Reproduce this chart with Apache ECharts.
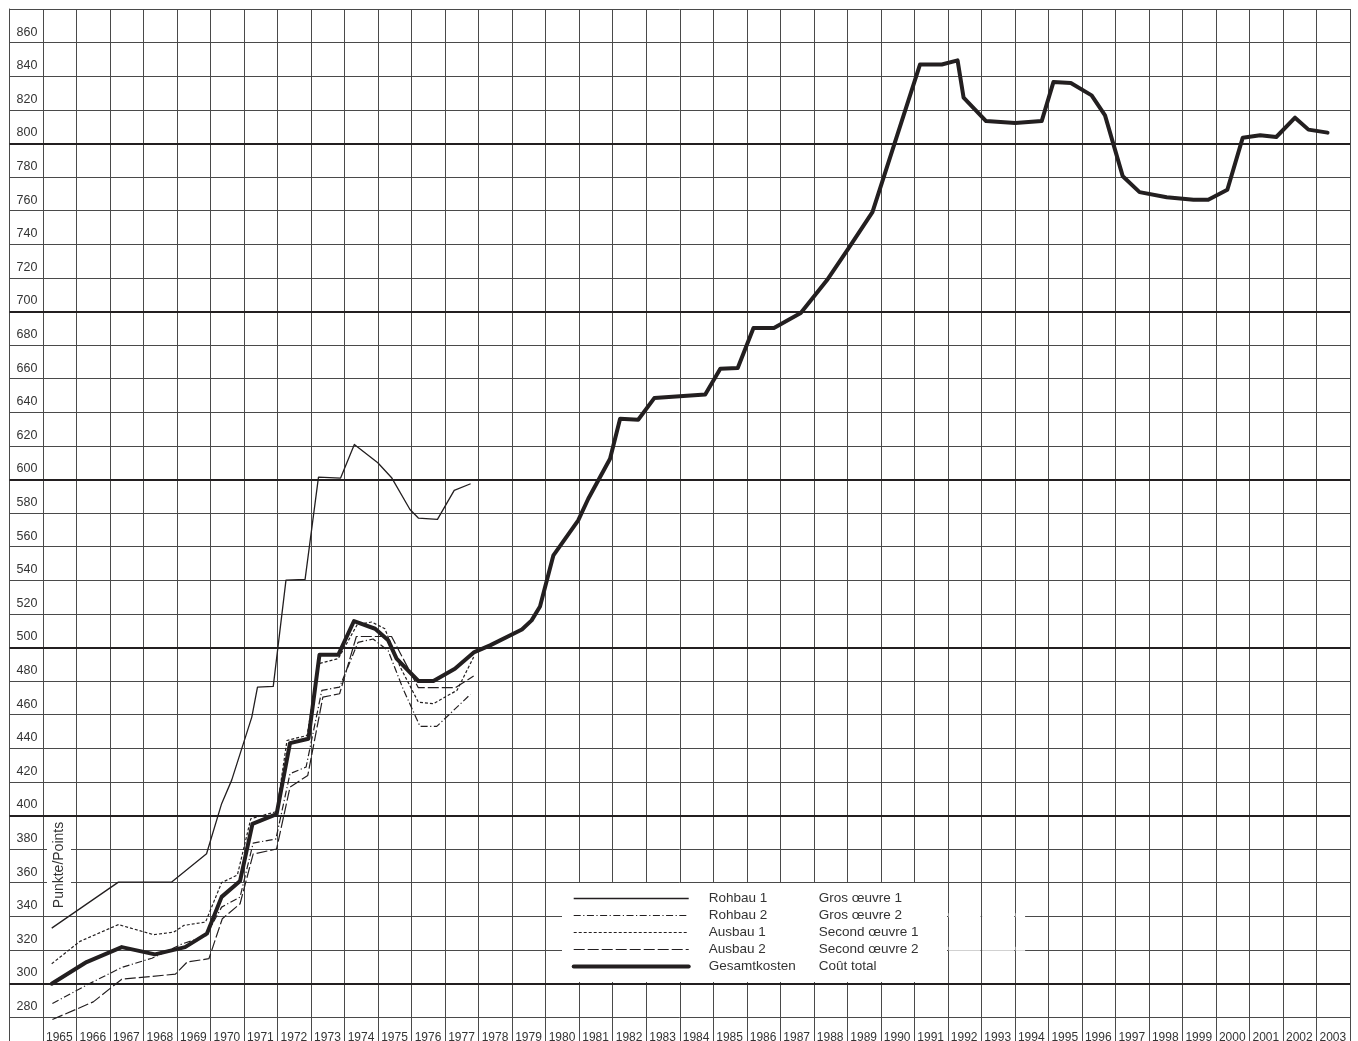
<!DOCTYPE html>
<html>
<head>
<meta charset="utf-8">
<script src="https://cdn.jsdelivr.net/npm/echarts@6/dist/echarts.min.js"></script>
<style>
html,body{margin:0;padding:0;background:#fff;}
#chart{width:1358px;height:1041px;}
</style>
</head>
<body>
<div id="chart"></div>
<script>
// ---- tick labels ----
const yearLabels = [1965,1966,1967,1968,1969,1970,1971,1972,1973,1974,1975,1976,1977,1978,1979,1980,1981,1982,1983,1984,1985,1986,1987,1988,1989,1990,1991,1992,1993,1994,1995,1996,1997,1998,1999,2000,2001,2002,2003];
const valueLabels = [280,300,320,340,360,380,400,420,440,460,480,500,520,540,560,580,600,620,640,660,680,700,720,740,760,780,800,820,840,860];
const heavyLines = [300,400,500,600,700,800];

// ---- series (German name, French name) ----
const seriesNames = ['Rohbau 1','Rohbau 2','Ausbau 1','Ausbau 2','Gesamtkosten'];
const frenchNames = ['Gros œuvre 1','Gros œuvre 2','Second œuvre 1','Second œuvre 2','Coût total'];

// ---- data: [year, index points] ----
const rohbau1 = [[1965.26,332.9],[1967.25,360.3],[1968.84,360.3],[1969.88,377.2],[1970.33,407],[1970.63,421],[1971.23,458.5],[1971.4,476.4],[1971.87,476.8],[1972.25,540],[1972.82,540.5],[1973.22,601.4],[1973.88,600.8],[1974.29,620.8],[1974.99,609.9],[1975.41,600.8],[1975.95,582.1],[1976.2,577],[1976.77,576.2],[1977.27,593.5],[1977.76,597.4]];
const rohbau2 = [[1965.28,288],[1966.3,299],[1967.35,309.5],[1968.25,315],[1969.15,323.5],[1969.85,328],[1970.33,345.4],[1970.88,351.4],[1971.27,383.5],[1971.95,386],[1972.37,424.8],[1972.85,428.8],[1973.32,474.4],[1973.85,476.4],[1974.4,503],[1974.85,505],[1975.3,498],[1975.75,475],[1976.25,453],[1976.75,453],[1977.75,472]];
const ausbau1 = [[1965.26,311.7],[1966.1,325],[1967.25,335],[1968.3,329],[1968.9,330.5],[1969.2,334.5],[1969.85,336.5],[1970.33,360],[1970.8,364.5],[1971.2,398],[1971.97,402.3],[1972.28,444.6],[1972.88,447.6],[1973.23,490.3],[1973.81,493.3],[1974.38,513.7],[1974.81,515.1],[1975.2,511.1],[1975.66,488.3],[1976.2,467.4],[1976.65,466.5],[1977.35,474.4],[1977.85,494.2]];
const ausbau2 = [[1965.28,278.5],[1966.5,289],[1967.35,302.5],[1968.95,305.5],[1969.3,312.7],[1969.95,314.7],[1970.35,338.5],[1970.88,347.4],[1971.27,377],[1971.97,380],[1972.37,416.8],[1972.9,423.8],[1973.35,470.4],[1973.85,472.4],[1974.35,506.5],[1975.4,506.5],[1976.2,476],[1977.3,476],[1977.85,483]];
const gesamtkosten = [[1965.26,299.8],[1966.3,312.7],[1967.35,321.6],[1968.34,317.3],[1969.24,321.6],[1969.89,329.6],[1970.33,351.5],[1970.88,361],[1971.25,395],[1971.97,400.8],[1972.37,443],[1972.92,445.6],[1973.25,495.6],[1973.81,495.6],[1974.28,515.7],[1974.91,511.1],[1975.3,504.2],[1975.55,493.3],[1976.2,480],[1976.65,480],[1977.29,487.3],[1977.87,497.2],[1978.34,501.2],[1979.29,510.7],[1979.58,516.1],[1979.83,524.4],[1980.23,554.8],[1980.97,575.6],[1981.27,588.5],[1981.92,612.3],[1982.22,636.1],[1982.76,635.5],[1983.24,648.4],[1984.76,650.6],[1985.21,665.9],[1985.73,666.3],[1986.2,690.1],[1986.81,690.1],[1987.61,699],[1988.39,718.5],[1989.03,737.3],[1989.75,759.1],[1991.17,847],[1991.82,847],[1992.29,849.4],[1992.47,827.2],[1993.14,813.3],[1994.01,812.1],[1994.8,813.3],[1995.15,836.5],[1995.67,835.9],[1996.29,828.6],[1996.69,816.7],[1997.22,780.4],[1997.72,771],[1998.53,768],[1999.33,766.5],[1999.77,766.5],[2000.34,772.4],[2000.8,803.4],[2001.32,804.8],[2001.8,803.8],[2002.36,815.3],[2002.76,808.2],[2003.33,806.4]];

const INK = '#231f20';
const GRID = '#4a4a4a';
const FONT = '"Liberation Sans", Arial, sans-serif';

// line looks per series (style only)
const looks = {
  'Rohbau 1': {type: 'solid', width: 1.3},
  'Rohbau 2': {type: [7, 2.5, 1.2, 2.5], width: 1.2},
  'Ausbau 1': {type: [3, 2], width: 1.2},
  'Ausbau 2': {type: [11, 3], width: 1.2},
  'Gesamtkosten': {type: 'solid', width: 4}
};
const seriesData = {'Rohbau 1': rohbau1, 'Rohbau 2': rohbau2, 'Ausbau 1': ausbau1, 'Ausbau 2': ausbau2, 'Gesamtkosten': gesamtkosten};

// plot geometry: 20 points per 33.6 px, top edge = 880, runs to the bottom of the page
const TOP = 9, PLOT_H = 1041 - TOP;
const Y_MAX = 880, Y_MIN = Y_MAX - PLOT_H / 1.68;

const chart = echarts.init(document.getElementById('chart'), null, {renderer: 'canvas'});

const frMap = {};
seriesNames.forEach((n, i) => frMap[n] = frenchNames[i]);

const series = seriesNames.map((name, i) => {
  const s = {
    name: name, type: 'line', data: seriesData[name], symbol: 'none', silent: true,
    animation: false, z: name === 'Gesamtkosten' ? 6 : 5, color: INK,
    itemStyle: {color: INK},
    lineStyle: {color: INK, width: looks[name].width, type: looks[name].type, join: 'round', cap: name === 'Gesamtkosten' ? 'round' : 'butt'}
  };
  if (i === 0) {
    s.markLine = {
      silent: true, symbol: 'none', label: {show: false}, animation: false,
      lineStyle: {color: INK, width: 2.2, type: 'solid'},
      emphasis: {disabled: true},
      data: heavyLines.map(v => ({yAxis: v}))
    };
  }
  return s;
});

const option = {
  backgroundColor: '#fff',
  animation: false,
  grid: {left: 9.5, right: 8, top: TOP, bottom: 0, containLabel: false, outerBoundsMode: 'none'},
  xAxis: {
    type: 'value', min: 1964, max: 2004, interval: 1,
    axisLine: {show: false}, axisTick: {show: false},
    splitLine: {show: true, lineStyle: {color: GRID, width: 1}},
    axisLabel: {
      show: true, inside: true, margin: -3, align: 'left', verticalAlign: 'bottom',
      padding: [0, 0, 0, 3], color: '#333', fontSize: 12, fontFamily: FONT, lineHeight: 12,
      showMinLabel: true, showMaxLabel: true,
      formatter: v => yearLabels.includes(Math.round(v)) ? String(Math.round(v)) : ''
    }
  },
  yAxis: {
    type: 'value', min: Y_MIN, max: Y_MAX, minInterval: 20, maxInterval: 20, splitNumber: 31,
    axisLine: {show: true, lineStyle: {color: GRID, width: 1}}, axisTick: {show: false},
    splitLine: {show: true, lineStyle: {color: GRID, width: 1}},
    axisLabel: {
      show: true, inside: true, margin: 7, align: 'left', verticalAlign: 'bottom',
      padding: [0, 0, 4, 0], color: '#333', fontSize: 12.5, fontFamily: FONT, lineHeight: 13,
      formatter: v => valueLabels.includes(Math.round(v)) && Math.abs(v - Math.round(v)) < 1e-6 ? String(Math.round(v)) : ''
    }
  },
  legend: {
    show: true, orient: 'vertical', left: 571.7, top: 891.5, padding: 0,
    itemWidth: 115, itemHeight: 14, itemGap: 3, selectedMode: false, z: 20,
    itemStyle: {color: 'rgba(0,0,0,0)', borderColor: 'rgba(0,0,0,0)', borderWidth: 0, opacity: 0},
    data: seriesNames.map(name => ({
      name: name,
      itemStyle: {color: 'rgba(0,0,0,0)', borderColor: 'rgba(0,0,0,0)', borderWidth: 0, opacity: 0},
      lineStyle: {color: INK, width: looks[name].width, type: looks[name].type, cap: name === 'Gesamtkosten' ? 'round' : 'butt'}
    })),
    textStyle: {color: '#333', fontSize: 13.5, fontFamily: FONT,
      rich: {
        de: {width: 110, padding: [0, 0, 0, 15], fontSize: 13.5, fontFamily: FONT, color: '#333'},
        fr: {fontSize: 13.5, fontFamily: FONT, color: '#333'}
      }
    },
    formatter: name => '{de|' + name + '}{fr|' + frMap[name] + '}'
  },
  graphic: [
    // legend panel background (masks grid)
    {type: 'rect', z: 15, silent: true, shape: {x: 562, y: 883, width: 385, height: 99}, style: {fill: '#fff'}},
    // masks over the 340 and 320 grid lines to the right of the panel
    {type: 'rect', z: 15, silent: true, shape: {x: 948.6, y: 913.2, width: 32, height: 4}, style: {fill: '#fff'}},
    {type: 'rect', z: 15, silent: true, shape: {x: 982.1, y: 913.2, width: 32, height: 4}, style: {fill: '#fff'}},
    {type: 'rect', z: 15, silent: true, shape: {x: 1015.6, y: 913.2, width: 9.5, height: 4}, style: {fill: '#fff'}},
    {type: 'rect', z: 15, silent: true, shape: {x: 948.6, y: 946.8, width: 32, height: 4}, style: {fill: '#fff'}},
    {type: 'rect', z: 15, silent: true, shape: {x: 982.1, y: 946.8, width: 32, height: 4}, style: {fill: '#fff'}},
    {type: 'rect', z: 15, silent: true, shape: {x: 1015.6, y: 946.8, width: 9.5, height: 4}, style: {fill: '#fff'}},
    // y axis title
    {type: 'text', z: 15, silent: true, x: 59, y: 865, rotation: Math.PI / 2,
      style: {text: 'Punkte/Points', fill: '#333', fontSize: 14, fontFamily: FONT,
        align: 'center', verticalAlign: 'middle', backgroundColor: '#fff', padding: [5, 2, 5, 2]}}
  ],
  series: series
};
chart.setOption(option);
</script>
</body>
</html>
